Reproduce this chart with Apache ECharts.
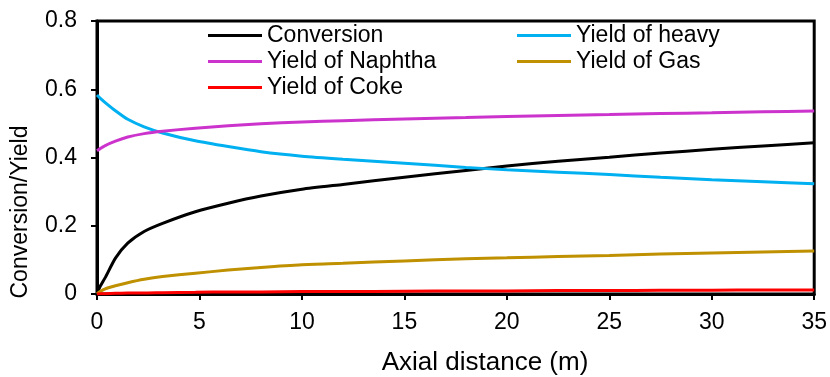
<!DOCTYPE html>
<html>
<head>
<meta charset="utf-8">
<script src="https://cdn.jsdelivr.net/npm/echarts@6/dist/echarts.min.js"></script>
<style>html,body{margin:0;padding:0;background:#fff;}#c{width:830px;height:377px;}</style>
</head>
<body>
<div id="c"></div>
<script>
const distance = [0, 0.15, 0.4, 0.9, 1.5, 2.3, 3.2, 4.8, 6.4, 8, 10, 12, 15, 18, 20, 22.5, 25, 27.5, 30, 32.5, 35];
const conversion = [0, 0.022, 0.048, 0.105, 0.149, 0.183, 0.207, 0.241, 0.266, 0.287, 0.307, 0.321, 0.342, 0.362, 0.375, 0.389, 0.401, 0.413, 0.424, 0.434, 0.443];
const yieldHeavy = [0.583, 0.574, 0.561, 0.537, 0.512, 0.490, 0.472, 0.449, 0.432, 0.417, 0.404, 0.395, 0.383, 0.371, 0.364, 0.357, 0.350, 0.342, 0.335, 0.329, 0.323];
const yieldNaphtha = [0.42, 0.426, 0.435, 0.448, 0.460, 0.470, 0.477, 0.486, 0.493, 0.499, 0.504, 0.508, 0.513, 0.517, 0.520, 0.523, 0.526, 0.529, 0.531, 0.534, 0.536];
const yieldGas = [0, 0.007, 0.015, 0.024, 0.033, 0.043, 0.051, 0.061, 0.070, 0.078, 0.086, 0.090, 0.097, 0.103, 0.106, 0.110, 0.113, 0.117, 0.120, 0.123, 0.126];
const yieldCoke = [0, 0.0005, 0.001, 0.002, 0.003, 0.003, 0.004, 0.005, 0.006, 0.006, 0.007, 0.007, 0.008, 0.009, 0.009, 0.010, 0.010, 0.011, 0.011, 0.012, 0.012];
const seriesNames = ['Conversion', 'Yield of heavy', 'Yield of Naphtha', 'Yield of Gas', 'Yield of Coke'];
const seriesColors = ['#000000', '#00B0F0', '#CC33CC', '#BF9000', '#FF0000'];
const seriesValues = [conversion, yieldHeavy, yieldNaphtha, yieldGas, yieldCoke];

const font = 'Liberation Sans, Arial, sans-serif';
const chart = echarts.init(document.getElementById('c'));
const legendCommon = {
  orient: 'vertical', padding: 0, itemGap: 3, itemWidth: 54, itemHeight: 3,
  icon: 'rect', textStyle: {fontFamily: font, fontSize: 23, color: '#000', padding: [0, 0, 0, 0]},
  selectedMode: false
};
chart.setOption({
  animation: false,
  grid: {left: 97, right: 15, top: 21, bottom: 83, show: true, borderColor: '#000', borderWidth: 3},
  legend: [
    Object.assign({left: 208, top: 24, data: ['Conversion', 'Yield of Naphtha', 'Yield of Coke']}, legendCommon),
    Object.assign({left: 517, top: 24, data: ['Yield of heavy', 'Yield of Gas']}, legendCommon)
  ],
  xAxis: {
    type: 'value', min: 0, max: 35, interval: 5,
    axisLine: {show: true, lineStyle: {color: '#000', width: 3}},
    axisTick: {show: true, length: 6, lineStyle: {color: '#000', width: 2}},
    axisLabel: {fontFamily: font, fontSize: 23, color: '#000', margin: 17},
    splitLine: {show: false}
  },
  yAxis: {
    type: 'value', min: 0, max: 0.8, interval: 0.2,
    axisLine: {show: true, lineStyle: {color: '#000', width: 3}},
    axisTick: {show: true, length: 6, lineStyle: {color: '#000', width: 2}},
    axisLabel: {fontFamily: font, fontSize: 23, color: '#000', margin: 20},
    splitLine: {show: false}
  },
  graphic: [{
    type: 'text', x: 21, y: 212, rotation: Math.PI / 2,
    style: {text: 'Conversion/Yield', fontFamily: font, fontSize: 23, fill: '#000', textAlign: 'center', textVerticalAlign: 'middle'}
  }, {
    type: 'text', x: 485, y: 363,
    style: {text: 'Axial distance (m)', fontFamily: font, fontSize: 26, fill: '#000', textAlign: 'center', textVerticalAlign: 'middle'}
  }],
  series: seriesNames.map((name, i) => ({
    name: name, type: 'line', smooth: 0.2, showSymbol: false, symbol: 'none',
    color: seriesColors[i],
    lineStyle: {color: seriesColors[i], width: 3},
    itemStyle: {color: seriesColors[i]},
    data: distance.map((d, j) => [d, seriesValues[i][j]])
  }))
});
</script>
</body>
</html>
